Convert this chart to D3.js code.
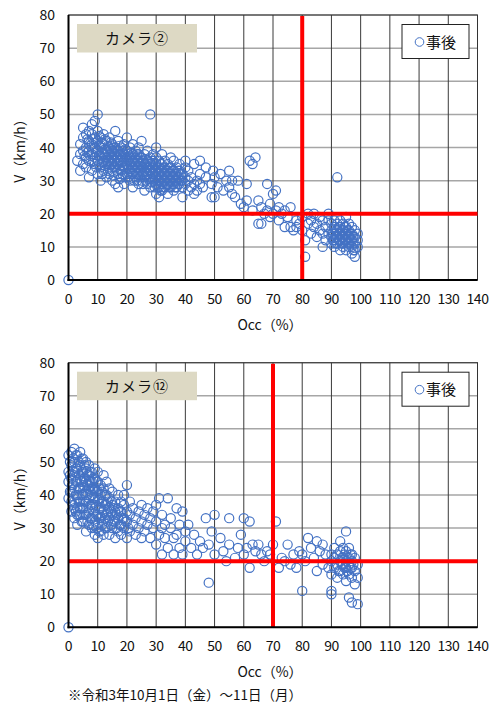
<!DOCTYPE html>
<html>
<head>
<meta charset="utf-8">
<script src="https://cdn.jsdelivr.net/npm/d3@7"></script>
<style>
  body { margin: 0; background: #fff; }
  svg { display: block; }
  text { font-family: "Noto Sans CJK JP", "Noto Sans", sans-serif; fill: #111; }
</style>
</head>
<body>
<div id="chart"></div>
<script>
// axis ticks
const occTicks = d3.range(0, 141, 10);
const vTicks = d3.range(0, 81, 10);

// thresholds (red lines)
const camera2Limits = { occ: 80, v: 20 };
const camera12Limits = { occ: 70, v: 20 };

// camera 2 : [Occ %, V km/h]
const camera2Points = [
  [0,0],
  [3,36],[4,33],[4,38],[4,41],[5,35],[5,39],[5,43],[5,46],[6,37],[6,40],[6,34],[6,44],[7,31],[7,36],[7,39],[7,42],[7,45],
  [8,33],[8,38],[8,41],[8,44],[8,47],[9,35],[9,37],[9,40],[9,43],[9,48],[10,50],[10,32],[10,36],[10,39],[10,42],[10,45],
  [11,30],[11,34],[11,37],[11,40],[11,43],[12,33],[12,36],[12,38],[12,41],[12,44],[13,31],[13,35],[13,37],[13,39],[13,42],
  [14,32],[14,34],[14,36],[14,38],[14,40],[14,43],[15,30],[15,33],[15,35],[15,37],[15,39],[15,41],[16,29],[16,34],[16,36],
  [16,38],[16,40],[16,45],[17,28],[17,32],[17,35],[17,37],[17,39],[17,42],[18,31],[18,33],[18,36],[18,38],[18,40],
  [19,29],[19,34],[19,36],[19,38],[19,41],[20,32],[20,35],[20,37],[20,39],[20,43],
  [21,30],[21,33],[21,35],[21,37],[21,40],[22,28],[22,32],[22,34],[22,36],[22,38],[22,41],[23,31],[23,33],[23,35],[23,37],
  [23,39],[24,29],[24,32],[24,34],[24,36],[24,38],[24,40],[25,30],[25,33],[25,35],[25,37],[25,42],[26,27],[26,31],[26,33],
  [26,35],[26,38],[27,29],[27,32],[27,34],[27,36],[27,39],[28,28],[28,31],[28,33],[28,35],[28,37],[28,50],[29,30],[29,32],
  [29,34],[29,36],[29,38],[30,26],[30,29],[30,31],[30,33],[30,35],[30,37],[30,40],
  [31,25],[31,28],[31,30],[31,32],[31,34],[31,36],[32,27],[32,29],[32,31],[32,33],[32,35],[32,38],[33,28],[33,30],[33,32],
  [33,34],[33,36],[34,26],[34,29],[34,31],[34,33],[34,35],[35,28],[35,30],[35,32],[35,34],[35,37],[36,27],[36,29],[36,31],
  [36,33],[36,36],[37,28],[37,30],[37,32],[37,34],[38,29],[38,31],[38,33],[38,35],[39,25],[39,28],[39,30],[39,32],
  [40,29],[40,31],[40,34],[40,36],
  [41,27],[41,30],[41,33],[42,28],[42,31],[43,26],[43,29],[43,35],[44,27],[44,30],[45,29],[45,32],[45,36],[46,28],[47,31],
  [47,34],[49,25],[49,29],[49.5,33],[50,25],[50,31],[51,28],[52,32],[53,27],[54,30],[55,28],[55,33],[56,30],[56,26],[57,25],
  [58,30],[59,23],
  [60,22],[61,24],[61,29],[62,36],[63,35],[64,37],[63,21],[65,24],[65,17],[66,17],[66,22],[67,20],[68,21],[68,29],[69,23],
  [69,19],[70,20],[70,26],[71,27],[71,21],[72,18],[72,22],[73,20],[74,16],[74,21],[75,19],[76,16],[76,22],[77,15],[78,18],
  [78,16],[79,17],
  [80,19],[80,15],[81,7],[81,12],[82,17],[82,20],[83,14],[83,18],[84,16],[84,20],[85,13],[85,17],[86,19],[86,15],[87,10],
  [87,14],[87,18],[88,12],[88,16],[89,14],[89,18],[89,20],[90,11],[90,13],[90,15],[90,17],[91,10],[91,12],[91,14],[91,16],
  [91,18],[92,31],[92,11],[92,13],[92,15],[92,17],[93,9],[93,12],[93,14],[93,16],[93,18],[94,10],[94,11],[94,13],[94,15],
  [94,17],[95,9],[95,12],[95,14],[95,16],[95,19],[96,10],[96,11],[96,13],[96,15],[96,17],[97,8],[97,10],[97,12],[97,14],
  [97,16],[98,7],[98,9],[98,11],[98,13],[98,15],[99,10],[99,12],[99,14]
];

// camera 2, extra points inside the dense clusters
const camera2Dense = [
  [5.5,37.5],[6.5,38.5],[6.5,42.5],[7.5,37.5],[7.5,40.5],[8.5,36],[8.5,39.5],[8.5,42.5],[9.5,34],[9.5,38.5],[9.5,41.5],
  [10.5,35],[10.5,37.5],[10.5,40.5],[10.5,43.5],[11.5,32],[11.5,35.5],[11.5,38.5],[11.5,41.5],[12.5,34.5],[12.5,37],
  [12.5,39.5],[12.5,42.5],[13.5,33],[13.5,36],[13.5,38.5],[13.5,40.5],[14.5,35],[14.5,37],[14.5,39.5],[14.5,41.5],
  [15.5,31.5],[15.5,34],[15.5,36],[15.5,38],[15.5,40],[16.5,33],[16.5,35],[16.5,37],[16.5,39],[17.5,30.5],[17.5,33.5],
  [17.5,36],[17.5,38],[17.5,40.5],[18.5,32],[18.5,34.5],[18.5,37],[18.5,39],[19.5,31],[19.5,35],[19.5,37],[19.5,39.5],
  [20.5,31],[20.5,33.5],[20.5,36],[20.5,38],[21.5,32],[21.5,34],[21.5,36],[21.5,38.5],[22.5,30],[22.5,33],[22.5,35],
  [22.5,37],[23.5,30],[23.5,32],[23.5,34],[23.5,36],[23.5,38],[24.5,31],[24.5,33],[24.5,35],[24.5,37],[25.5,29],[25.5,32],
  [25.5,34],[25.5,36],[26.5,30],[26.5,32],[26.5,34],[26.5,36.5],[27.5,30.5],[27.5,33],[27.5,35],[28.5,29.5],[28.5,32],
  [28.5,34],[28.5,36],[29.5,28],[29.5,31],[29.5,33],[29.5,35],[30.5,28],[30.5,30],[30.5,32],[30.5,34],[31.5,27],[31.5,29],
  [31.5,31],[31.5,33],[31.5,35],[32.5,28],[32.5,30],[32.5,32],[32.5,34],[33.5,29],[33.5,31],[33.5,33],[34.5,28],[34.5,30],
  [34.5,32],[34.5,34],[35.5,29],[35.5,31],[35.5,33],[36.5,28],[36.5,30],[36.5,32],[37.5,29],[37.5,31],[37.5,33],[38.5,30],
  [38.5,32],
  [90.5,12],[90.5,14],[91.5,11],[91.5,13],[91.5,15],[92.5,12],[92.5,14],[92.5,16],[93.5,11],[93.5,13],[93.5,15],[94.5,12],
  [94.5,14],[94.5,16],[95.5,11],[95.5,13],[95.5,15],[96.5,12],[96.5,14],[97.5,11],[97.5,13],[97.5,9]
];

// camera 12 : [Occ %, V km/h]
const camera12Points = [
  [0,0],
  [0,39],[0,44],[0,47],[0,52],[1,35],[1,41],[1,45],[1,49],[1,53],[2,33],[2,38],[2,42],[2,46],[2,50],[2,54],[3,31],[3,36],
  [3,40],[3,44],[3,48],[3,52],[4,34],[4,38],[4,42],[4,45],[4,49],[4,53],[5,32],[5,36],[5,40],[5,43],[5,47],[5,51],
  [6,29],[6,34],[6,38],[6,41],[6,44],[6,48],[6,50],[7,31],[7,35],[7,39],[7,42],[7,46],[7,49],[8,30],[8,33],[8,37],[8,40],
  [8,44],[8,47],[9,28],[9,32],[9,36],[9,39],[9,42],[9,45],[9,48],[10,27],[10,31],[10,34],[10,38],[10,41],[10,44],[10,47],
  [11,29],[11,33],[11,36],[11,40],[11,43],[12,28],[12,32],[12,35],[12,38],[12,42],[12,46],[13,30],[13,34],[13,37],[13,40],
  [13,44],[14,28],[14,33],[14,36],[14,39],[14,42],[15,30],[15,34],[15,37],[15,41],
  [16,27],[16,32],[16,35],[16,38],[17,29],[17,33],[17,36],[17,40],[18,28],[18,31],[18,35],[18,38],[19,30],[19,33],[19,37],
  [19,40],[20,27],[20,32],[20,35],[20,43],[21,29],[21,34],[21,38],[22,31],[22,36],[23,28],[23,33],[24,30],[24,35],[25,27],
  [25,32],[25,37],
  [26,29],[26,34],[27,31],[27,36],[28,27],[28,33],[29,30],[29,35],[30,25],[30,32],[30,37],[31,28],[31,39],[32,22],[32,30],
  [32,34],[33,27],[33,31],[34,39],[34,24],[35,30],[35,33],[36,22],[36,27],[37,28],[37,36],[38,24],[38,31],[39,35],[39,22],
  [40,29],[40,26],
  [41,31],[42,24],[43,28],[44,22],[45,26],[46,24],[47,33],[48,13.5],[48,25],[49,29],[50,22],[50,34],[52,27],[53,23],[54,20],
  [55,25],[55,33],[57,21],[58,24],[59,28],[60,33],[60,22],[61,24],[62,32],[62,18],[63,25],[64,23],[65,25],[66,22],[67,20],
  [68,23],[69,22],[70,25],
  [71,32],[72,18],[73,21],[74,20],[75,25],[76,19],[77,22],[78,18],[79,23],[80,22],[80,11],[81,20],[82,27],[83,24],[84,21],
  [85,26],[85,17],[86,23],[87,19],[87,25],[88,22],[89,18],[90,10],[90,11],[90,16],[90,20],[90,22],[91,18],[91,21],[91,24],
  [92,15],[92,19],[92,22],[93,17],[93,20],[93,23],[93,26],[94,16],[94,19],[94,21],[94,24],[95,29],[95,14],[95,18],[95,20],
  [95,23],[96,9],[96,16],[96,19],[96,21],[96,24],[97,7.5],[97,15],[97,18],[97,20],[97,22],[98,13],[98,17],[98,21],[99,7],
  [99,15],[99,19]
];

// camera 12, extra points inside the dense clusters
const camera12Dense = [
  [0.5,41],[0.5,46],[0.5,50],[1.5,37],[1.5,43],[1.5,47],[1.5,51],[2.5,35],[2.5,40],[2.5,44],[2.5,48],[2.5,52],[3.5,34],
  [3.5,38],[3.5,42],[3.5,46],[3.5,50],[4.5,32],[4.5,36],[4.5,40],[4.5,44],[4.5,47],[4.5,51],[5.5,34],[5.5,38],[5.5,42],
  [5.5,45],[5.5,49],[6.5,32],[6.5,36],[6.5,40],[6.5,43],[6.5,46],[7.5,33],[7.5,37],[7.5,41],[7.5,44],[7.5,47],[8.5,31],
  [8.5,35],[8.5,39],[8.5,42],[8.5,45],[9.5,30],[9.5,34],[9.5,37],[9.5,41],[9.5,44],[10.5,29],[10.5,33],[10.5,36],[10.5,39],
  [10.5,42],[11.5,31],[11.5,34],[11.5,38],[11.5,41],[12.5,30],[12.5,33],[12.5,37],[12.5,40],[13.5,32],[13.5,35],[13.5,38],
  [14.5,31],[14.5,35],[14.5,38],[15.5,32],[15.5,36],[16.5,30],[16.5,34],[17.5,31],[17.5,35],[18.5,33],[19.5,32],[20.5,30],
  [1,38],[2,36],[3,34],[4,36],[3.2,39],[5.2,45],[6.2,47],[7.2,44],[8.2,42],[2.3,47],[1.2,43],
  [92.5,17],[93.5,19],[94.5,18],[95.5,17],[95.5,21],[96.5,18],[96.5,22],[94.5,22],[93.5,21],[97.5,19]
];

const width = 496, height = 709;
const svg = d3.select("#chart").append("svg")
  .attr("width", width).attr("height", height);

const x = d3.scaleLinear().domain([0, 140]).range([68.5, 477.5]);

function drawChart(top, bottom, points, title, limits) {
  const y = d3.scaleLinear().domain([0, 80]).range([bottom, top]);
  const g = svg.append("g");

  // horizontal grid (lighter)
  g.selectAll(".hgrid").data(vTicks.slice(1)).enter().append("line")
    .attr("x1", x(0)).attr("x2", x(140))
    .attr("y1", d => y(d)).attr("y2", d => y(d))
    .attr("stroke", "#a6a6a6").attr("stroke-width", 1.5);

  // vertical grid (darker)
  g.selectAll(".vgrid").data(occTicks.slice(1)).enter().append("line")
    .attr("x1", d => x(d)).attr("x2", d => x(d))
    .attr("y1", y(0)).attr("y2", y(80))
    .attr("stroke", "#3a3a3a").attr("stroke-width", 1);

  g.append("rect")
    .attr("x", x(0)).attr("y", y(80))
    .attr("width", x(140) - x(0)).attr("height", y(0) - y(80))
    .attr("fill", "none").attr("stroke", "#333").attr("stroke-width", 1);

  // points
  g.selectAll(".pt").data(points).enter().append("circle")
    .attr("cx", d => x(d[0])).attr("cy", d => y(d[1]))
    .attr("r", 4.6)
    .attr("fill", "none").attr("stroke", "#4472c4").attr("stroke-width", 1.2);

  // red threshold lines
  g.append("line")
    .attr("x1", x(0)).attr("x2", x(140))
    .attr("y1", y(limits.v)).attr("y2", y(limits.v))
    .attr("stroke", "#ff0000").attr("stroke-width", 4);
  g.append("line")
    .attr("x1", x(limits.occ)).attr("x2", x(limits.occ))
    .attr("y1", y(0)).attr("y2", y(80) + 1)
    .attr("stroke", "#ff0000").attr("stroke-width", 4);

  // axes (left, bottom)
  g.append("line").attr("x1", x(0)).attr("x2", x(0)).attr("y1", y(0) + 1).attr("y2", y(80))
    .attr("stroke", "#000").attr("stroke-width", 2);
  g.append("line").attr("x1", x(0) - 1).attr("x2", x(140)).attr("y1", y(0)).attr("y2", y(0))
    .attr("stroke", "#000").attr("stroke-width", 2);

  // tick labels
  g.selectAll(".ylab").data(vTicks).enter().append("text")
    .attr("x", 55).attr("y", d => y(d) + 5)
    .attr("text-anchor", "end").attr("font-size", 14)
    .text(d => d);
  g.selectAll(".xlab").data(occTicks).enter().append("text")
    .attr("x", d => x(d)).attr("y", y(0) + 24)
    .attr("text-anchor", "middle").attr("font-size", 14)
    .attr("letter-spacing", -0.5)
    .text(d => d);

  // axis titles
  g.append("text")
    .attr("x", 270).attr("y", y(0) + 50)
    .attr("text-anchor", "middle").attr("font-size", 14)
    .text("Occ（%）");
  g.append("text")
    .attr("transform", `translate(25, ${(top + bottom) / 2}) rotate(-90)`)
    .attr("text-anchor", "middle").attr("font-size", 14)
    .text("V（km/h）");

  // title box
  g.append("rect")
    .attr("x", 77).attr("y", top + 9)
    .attr("width", 120).attr("height", 28.5)
    .attr("fill", "#ddd9c4");
  g.append("text")
    .attr("x", 137).attr("y", top + 29)
    .attr("text-anchor", "middle").attr("font-size", 15)
    .attr("letter-spacing", 1)
    .text(title);

  // legend
  g.append("rect")
    .attr("x", 402).attr("y", top + 9.5)
    .attr("width", 67).attr("height", 34)
    .attr("fill", "#fff").attr("stroke", "#222").attr("stroke-width", 1);
  g.append("circle")
    .attr("cx", 419.5).attr("cy", top + 27)
    .attr("r", 4.3)
    .attr("fill", "none").attr("stroke", "#4472c4").attr("stroke-width", 1);
  g.append("text")
    .attr("x", 426).attr("y", top + 32.5)
    .attr("font-size", 15)
    .text("事後");
}

drawChart(15, 280, camera2Points.concat(camera2Dense), "カメラ②", camera2Limits);
drawChart(362.7, 627.3, camera12Points.concat(camera12Dense), "カメラ⑫", camera12Limits);

svg.append("text")
  .attr("x", 68).attr("y", 700)
  .attr("font-size", 13.5)
  .text("※令和3年10月1日（金）～11日（月）");
</script>
</body>
</html>
